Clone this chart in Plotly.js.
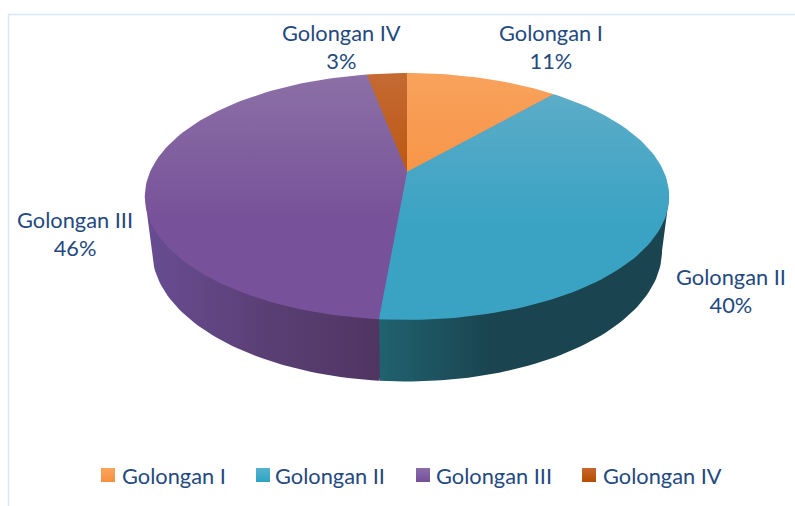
<!DOCTYPE html>
<html>
<head>
<meta charset="utf-8">
<script src="https://cdn.plot.ly/plotly-3.0.1.min.js"></script>
<style>html,body{margin:0;padding:0;background:#fff}#chart{width:795px;height:506px}</style>
</head>
<body>
<div id="chart"></div>
<script>
// Data
var categories = ["Golongan I", "Golongan II", "Golongan III", "Golongan IV"];
var values = [11.4, 40.0, 45.6, 3.0];
var percentLabels = ["11%", "40%", "46%", "3%"];

// Styles
var topStart = ["#f9a25c", "#62aec8", "#8c70a6", "#c46a34"];
var topEnd   = ["#f68f3e", "#3aa3c4", "#775199", "#b84f00"];
var sideStart = ["#a85f20", "#20626f", "#684c92", "#7a3a10"];
var sideMid   = ["#a85f20", "#1a4450", "#5a3f75", "#7a3a10"];
var sideEnd   = ["#a85f20", "#1a4450", "#503563", "#7a3a10"];
var sideMidAt = [0.5, 0.38, 0.5, 0.5];
var legendTop = ["#fba45e", "#55b3cf", "#8a6cab", "#c8662c"];
var legendBot = ["#f68f3e", "#2fa3c2", "#754f98", "#b44d00"];
var textColor = "#24497f";
var fontFamily = "Lato, 'Open Sans', sans-serif";

// Projection of the tilted disc into the pixel-unit axes
var cx = 407, k = 0.198;
var topRim = {y0: 172, a: 257, b: 118.6};
var botRim = {y0: 224.6, a: 250, b: 125.8};
var topInner = {y0: 172, a: 255.5, b: 117.1};
var silhouette = Math.acos(-k) * 180 / Math.PI;
function project(rim, deg) {
  var t = deg * Math.PI / 180, w = 1 + k * Math.cos(t);
  return [cx + rim.a * Math.sin(t) / w, rim.y0 - rim.b * Math.cos(t) / w];
}
function arc(rim, d0, d1) {
  var pts = [], n = Math.max(2, Math.ceil(Math.abs(d1 - d0) / 1.5));
  for (var i = 0; i <= n; i++) pts.push(project(rim, d0 + (d1 - d0) * i / n));
  return pts;
}
function xs(p) { return p.map(function (q) { return q[0]; }); }
function ys(p) { return p.map(function (q) { return q[1]; }); }

var total = values.reduce(function (a, b) { return a + b; }, 0);
var sides = [], faces = [], acc = 0;
values.forEach(function (v, i) {
  var d0 = acc / total * 360, d1 = (acc + v) / total * 360;
  acc += v;
  // front wall only, between the two silhouette angles
  var f0 = Math.max(d0, silhouette), f1 = Math.min(d1, 360 - silhouette);
  if (f1 > f0) {
    var wall = arc(f0 === silhouette ? topRim : topInner, f0, f0)
      .concat(arc(topInner, f0, f1))
      .concat(arc(f1 === 360 - silhouette ? topRim : topInner, f1, f1))
      .concat(arc(botRim, f1, f0));
    var left = project(botRim, f1)[0], right = project(topRim, f0)[0];
    sides.push({
      type: "scatter", mode: "lines", x: xs(wall), y: ys(wall),
      fill: "toself", line: {width: 0}, hoverinfo: "skip", showlegend: false,
      fillgradient: {type: "horizontal", start: left, stop: right,
        colorscale: [[0, sideStart[i]], [sideMidAt[i], sideMid[i]], [1, sideEnd[i]]]}
    });
  }
  var face = [[cx, topRim.y0]].concat(arc(topRim, d0, d1)).concat([[cx, topRim.y0]]);
  faces.push({
    type: "scatter", mode: "lines", x: xs(face), y: ys(face), name: categories[i],
    fill: "toself", line: {width: 0}, hoverinfo: "skip", showlegend: false,
    fillgradient: {type: "vertical", start: 73, stop: 320,
      colorscale: [[0, topStart[i]], [0.6, topEnd[i]], [1, topEnd[i]]]}
  });
});

// Backing shapes so no hairlines show between the slices
var disc = arc(topInner, 0, 360);
var backing = {type: "scatter", mode: "lines", x: xs(disc), y: ys(disc), fill: "toself",
  fillcolor: "#6a7fa8", line: {width: 0}, hoverinfo: "skip", showlegend: false};
var wallBack = arc(topInner, silhouette + 1, 359 - silhouette).concat(
  arc({y0: botRim.y0 - 1, a: botRim.a - 1, b: botRim.b - 1}, 359 - silhouette, silhouette + 1));
var wallBacking = {type: "scatter", mode: "lines", x: xs(wallBack), y: ys(wallBack), fill: "toself",
  fillcolor: "#3b3f5c", line: {width: 0}, hoverinfo: "skip", showlegend: false};

// Legend row
var legendX = [108, 263, 423, 589];
var legendTextX = [122, 275, 436, 603];
var legendY = 475;
var swatches = {
  type: "scatter", mode: "markers", x: legendX, y: legendX.map(function () { return legendY; }),
  hoverinfo: "skip", showlegend: false,
  marker: {symbol: "square", size: 14, color: legendTop, line: {width: 0},
           gradient: {type: "vertical", color: legendBot}}
};

var labelX = [551, 731, 75, 341];
var labelY = [46, 290, 233.5, 46];
var fontSize = 21.8;
var annotations = categories.map(function (c, i) {
  return {x: labelX[i], y: labelY[i], xref: "x", yref: "y", text: c + "<br>" + percentLabels[i],
    showarrow: false, xanchor: "center", yanchor: "middle", align: "center",
    font: {family: fontFamily, size: fontSize, color: textColor}};
}).concat(categories.map(function (c, i) {
  return {x: legendTextX[i], y: legendY, xref: "x", yref: "y", text: c,
    showarrow: false, xanchor: "left", yanchor: "middle", xshift: -2,
    font: {family: fontFamily, size: fontSize, color: textColor}};
}));

var hidden = {visible: false, fixedrange: true};
var layout = {
  width: 795, height: 506, margin: {l: 0, r: 0, t: 0, b: 0},
  paper_bgcolor: "#ffffff", plot_bgcolor: "#ffffff", showlegend: false,
  xaxis: Object.assign({range: [0, 795]}, hidden),
  yaxis: Object.assign({range: [506, 0]}, hidden),
  annotations: annotations,
  shapes: [{type: "path", path: "M 8.5 506 L 8.5 14.5 L 795 14.5", xref: "x", yref: "y",
            line: {color: "#dbe7f6", width: 1.5}}]
};
Plotly.newPlot("chart", [wallBacking].concat(sides).concat([backing]).concat(faces).concat([swatches]), layout, {staticPlot: true, displayModeBar: false});
</script>
</body>
</html>
